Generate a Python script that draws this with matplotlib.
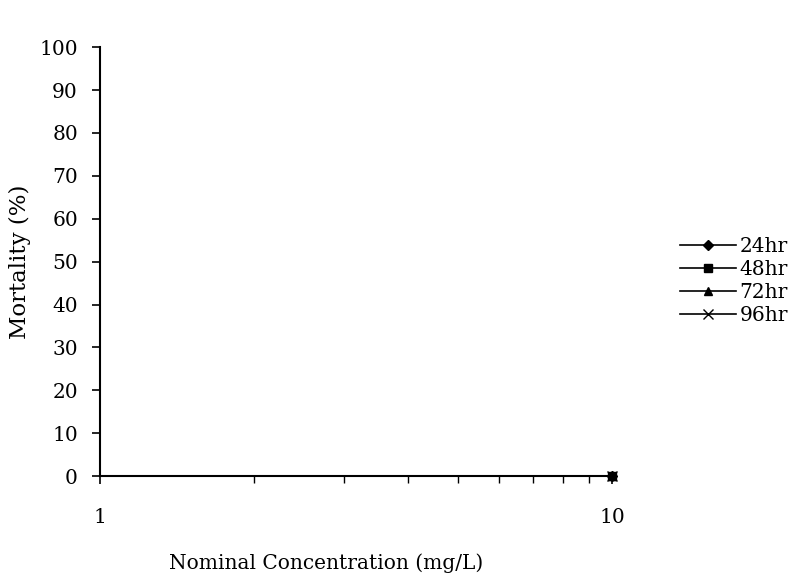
import matplotlib
matplotlib.use("Agg")
import matplotlib.pyplot as plt
from matplotlib.ticker import FixedLocator, NullFormatter

plt.rcParams['font.family'] = ['DejaVu Serif']

# data
conc = [10]
series = ["24hr", "48hr", "72hr", "96hr"]
mortality = {
    "24hr": [0],
    "48hr": [0],
    "72hr": [0],
    "96hr": [0],
}
markers = {"24hr": "D", "48hr": "s", "72hr": "^", "96hr": "x"}
msizes = {"24hr": 5, "48hr": 6, "72hr": 6, "96hr": 7}
yticks = list(range(0, 101, 10))

fig = plt.figure(figsize=(7.95, 5.82), dpi=100)
ax = fig.add_axes([0.126, 0.182, 0.644, 0.737])

for s in series:
    ax.plot(conc, mortality[s], color="black", marker=markers[s],
            markersize=msizes[s], linewidth=1.2, label=s, clip_on=False)

ax.set_xscale("log")
ax.set_xlim(1, 10)
ax.set_ylim(0, 100)
ax.set_yticks(yticks)
ax.set_xticks([1, 10])
ax.set_xticklabels(["1", "10"])
ax.xaxis.set_minor_locator(FixedLocator([2, 3, 4, 5, 6, 7, 8, 9]))
ax.xaxis.set_minor_formatter(NullFormatter())

for side in ["top", "right"]:
    ax.spines[side].set_visible(False)
ax.spines["left"].set_linewidth(1.5)
ax.spines["bottom"].set_linewidth(1.5)

ax.tick_params(axis="y", direction="out", length=6, width=1.2, labelsize=14.5, pad=10)
ax.tick_params(axis="x", which="major", direction="out", length=6, width=1.2,
               labelsize=14.5, pad=17)
ax.tick_params(axis="x", which="minor", direction="out", length=5, width=1.0)

ax.set_xlabel("Nominal Concentration (mg/L)", fontsize=14.5)
ax.xaxis.set_label_coords(0.442, -0.18)
ax.set_ylabel("Mortality (%)", fontsize=16.5, labelpad=6)

ax.legend(loc="upper left", bbox_to_anchor=(1.113, 0.58), frameon=False,
          fontsize=14.5, handlelength=2.8, handletextpad=0.15,
          labelspacing=0.2, borderpad=0)

fig.savefig("out.png", dpi=100)
